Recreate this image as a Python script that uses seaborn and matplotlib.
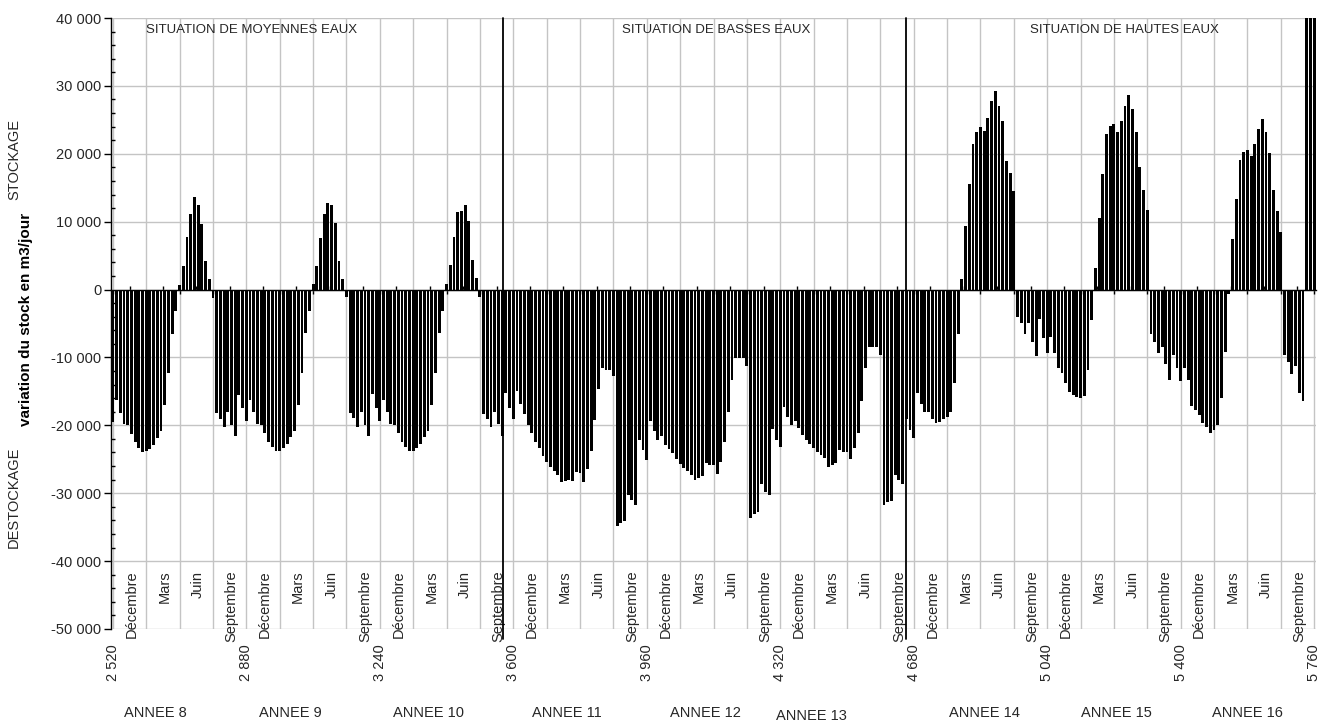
import numpy as np
import pandas as pd
import matplotlib
matplotlib.use("Agg")
import matplotlib.pyplot as plt
from matplotlib.ticker import FuncFormatter, MultipleLocator
import seaborn as sns

# Variation du stock (m3/jour), un pas tous les 10 jours, 36 pas par annee
annee_8 = [-19500, -16300, -18200, -19800, -20000, -21300, -22400, -23400, -23900,
           -23800, -23500, -22900, -21900, -20800, -17000, -12300, -6500, -3100,
           700, 3500, 7700, 11200, 13600, 12400, 9700, 4200, 1600,
           -1200, -18200, -19000, -20200, -18100, -19900, -21600, -15500, -17400]
annee_9 = [-19400, -16200, -18100, -19800, -20000, -21200, -22400, -23200, -23800,
           -23800, -23400, -22800, -21700, -20800, -17000, -12300, -6400, -3100,
           800, 3500, 7600, 11200, 12700, 12500, 9800, 4200, 1600,
           -1100, -18200, -18900, -20200, -18000, -20000, -21500, -15400, -17400]
annee_10 = [-19400, -16200, -18100, -19800, -20000, -21200, -22400, -23200, -23800,
            -23800, -23400, -22800, -21700, -20800, -17000, -12300, -6400, -3100,
            800, 3600, 7800, 11400, 11500, 12500, 10100, 4300, 1700,
            -1100, -18300, -19100, -20200, -18000, -19800, -21500, -15300, -17400]
annee_11 = [-19100, -15000, -16800, -18300, -19900, -21200, -22400, -23400, -24500,
            -25400, -26100, -26700, -27300, -28300, -28200, -28000, -28200, -26900,
            -27000, -28300, -26400, -23800, -19200, -14700, -11600, -11800, -11900,
            -12800, -34800, -34400, -34100, -30200, -31000, -31800, -22200, -23600]
annee_12 = [-25100, -19300, -20800, -22200, -21600, -22900, -23500, -24100, -25000,
            -25700, -26300, -26700, -27300, -28100, -27700, -27500, -25600, -25900,
            -25900, -27100, -25400, -22400, -18000, -13300, -10100, -10100, -10100,
            -11300, -33600, -33000, -32800, -28600, -29800, -30200, -20600, -22200]
annee_13 = [-23200, -17300, -18700, -19900, -19400, -20400, -21400, -22100, -22800,
            -23400, -24000, -24400, -24800, -26200, -25800, -25500, -23600, -23900,
            -24000, -25000, -23400, -21200, -16400, -11600, -8400, -8400, -8500,
            -9600, -31800, -31300, -31100, -27300, -28100, -28700, -19100, -20700]
annee_14 = [-21900, -15300, -16800, -18100, -18100, -19000, -19600, -19500, -19000,
            -18800, -18000, -13800, -6500, 1500, 9400, 15600, 21500, 23200,
            24000, 23300, 25300, 27800, 29300, 27000, 24900, 19000, 17100,
            14500, -4100, -4900, -6500, -4900, -7700, -9800, -4400, -7200]
annee_15 = [-9300, -7000, -9300, -11500, -12300, -13800, -15100, -15500, -15900,
            -16000, -15700, -11800, -4500, 3200, 10500, 17000, 22900, 24100,
            24400, 23200, 24800, 27000, 28600, 26600, 23200, 18100, 14700,
            11700, -6600, -7700, -9400, -8400, -11000, -13300, -9600, -11500]
annee_16 = [-13400, -11600, -13300, -17200, -17800, -18500, -19600, -20200, -21200,
            -20700, -19900, -16000, -9200, -600, 7400, 13400, 19100, 20300,
            20500, 19600, 21400, 23600, 25100, 23200, 20100, 14600, 11600,
            8500, -9700, -10600, -12400, -11200, -15200, -16400, 48000, 48000]
jour_5760 = [48000]

mois = ["Décembre", "Mars", "Juin", "Septembre"]
situations = ["SITUATION DE MOYENNES EAUX", "SITUATION DE BASSES EAUX",
              "SITUATION DE HAUTES EAUX"]
situations_x = [2895, 4147, 5247]
separations = [3573, 4658]
annees = ["ANNEE 8", "ANNEE 9", "ANNEE 10", "ANNEE 11", "ANNEE 12",
          "ANNEE 13", "ANNEE 14", "ANNEE 15", "ANNEE 16"]
annees_x = [2634, 2998, 3370, 3745, 4117, 4405, 4872, 5228, 5579]
annees_y = [-0.138, -0.138, -0.138, -0.138, -0.138, -0.1425, -0.138, -0.138, -0.138]


def espace_milliers(v, pos=None):
    return f"{int(round(v)):,}".replace(",", " ")


def main():
    valeurs = (annee_8 + annee_9 + annee_10 + annee_11 + annee_12 + annee_13
               + annee_14 + annee_15 + annee_16 + jour_5760)
    jours = np.arange(2520, 5761, 10)
    data = pd.DataFrame({"jour": jours, "variation": valeurs})

    sns.set_theme(style="white")
    plt.rcParams["font.family"] = ["Liberation Sans", "DejaVu Sans"]

    fig = plt.figure(figsize=(13.19, 7.22), dpi=100)
    ax = fig.add_axes([111 / 1319, 93 / 722, 1205 / 1319, 611 / 722])

    sns.barplot(data=data, x="jour", y="variation", native_scale=True,
                color="black", saturation=1, width=0.78, linewidth=0,
                errorbar=None, ax=ax)

    ax.set_xlim(2515, 5765)
    ax.set_ylim(-50000, 40000)
    ax.set_xlabel("")

    # axe vertical
    ax.yaxis.set_major_locator(MultipleLocator(10000))
    ax.yaxis.set_minor_locator(MultipleLocator(2000))
    ax.yaxis.set_major_formatter(FuncFormatter(espace_milliers))
    ax.tick_params(axis="y", which="major", direction="out", length=5, width=1,
                   color="black", labelsize=10.5, pad=2, left=True)
    ax.tick_params(axis="y", which="minor", direction="in", length=3, width=1,
                   color="black", left=True)
    ax.set_ylabel("variation du stock en m3/jour", fontsize=11,
                  fontweight="bold", color="black")
    ax.yaxis.set_label_coords(-0.0647, 0.506)

    # axe horizontal croise a zero
    ax.spines["bottom"].set_position(("data", 0))
    ax.spines["bottom"].set_color("black")
    ax.spines["bottom"].set_linewidth(1)
    ax.spines["left"].set_color("black")
    ax.spines["left"].set_linewidth(1)
    ax.spines["top"].set_visible(False)
    ax.spines["right"].set_visible(False)
    ax.xaxis.set_major_locator(MultipleLocator(90))
    ax.xaxis.set_minor_locator(MultipleLocator(45))
    ax.tick_params(axis="x", which="major", direction="out", length=3, width=1,
                   color="black", bottom=True, labelbottom=False)
    ax.tick_params(axis="x", which="minor", direction="in", length=3, width=1,
                   color="black", bottom=True)

    ax.grid(True, which="major", axis="both", color="#c4c4c4", linewidth=1)
    ax.set_axisbelow(True)

    # graduations en jours sous le graphique
    secax = ax.secondary_xaxis(0)
    ticks = list(range(2520, 5761, 360))
    secax.set_xticks(ticks, labels=[espace_milliers(t) for t in ticks])
    secax.tick_params(length=0, pad=11, labelsize=10.5, labelrotation=90)
    secax.spines["bottom"].set_visible(False)

    for i, x in enumerate(range(2570, 5760, 90)):
        ax.text(x, -41400, mois[i % 4], rotation=90, ha="center", va="top",
                fontsize=10.5)

    for x in separations:
        ax.axvline(x, ymin=-0.016, ymax=1, color="black", linewidth=1.3,
                   clip_on=False, zorder=3)

    for label, x in zip(situations, situations_x):
        ax.text(x, 38200, label, ha="center", va="center", fontsize=9.5)

    tr = ax.get_xaxis_transform()
    for label, x, y in zip(annees, annees_x, annees_y):
        ax.text(x, y, label, transform=tr, ha="center", va="center",
                fontsize=10.5)

    fig.text(14 / 1319, 1 - 160 / 722, "STOCKAGE", rotation=90, ha="center",
             va="center", fontsize=10.5)
    fig.text(14 / 1319, 1 - 497 / 722, "DESTOCKAGE", rotation=90, ha="center",
             va="center", fontsize=10.5)

    fig.savefig("out.png", dpi=100)


if __name__ == "__main__":
    main()
